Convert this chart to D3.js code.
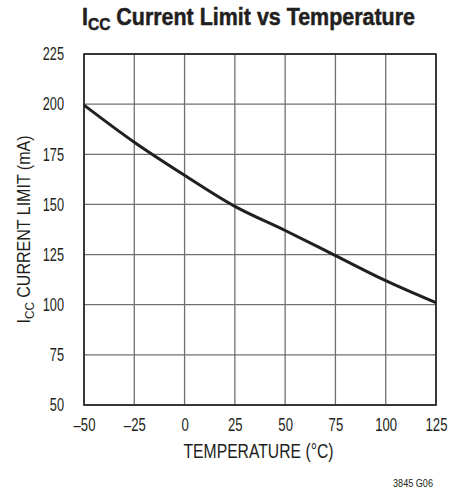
<!DOCTYPE html>
<html>
<head>
<meta charset="utf-8">
<script src="https://cdn.jsdelivr.net/npm/d3@7"></script>
<style>
  body { margin: 0; background: #fff; }
  text { font-family: "Liberation Sans", Arial, sans-serif; fill: #231f20; }
</style>
</head>
<body>
<svg id="chart"></svg>
<script>
const width = 467;
const height = 495;

// data
const temps = [-50, -25, 0, 25, 50, 75, 100, 125];
const limits = [199.5, 181, 164.5, 149, 137, 124.5, 112, 101];
const xTicks = [-50, -25, 0, 25, 50, 75, 100, 125];
const yTicks = [50, 75, 100, 125, 150, 175, 200, 225];

const margin = {top: 54, right: 31, bottom: 90, left: 84};
const w = width - margin.left - margin.right;
const h = height - margin.top - margin.bottom;
const ink = '#231f20';
const narrow = 0.71; // fake a condensed face

const svg = d3.select('#chart')
  .attr('width', width)
  .attr('height', height);

const x = d3.scaleLinear().domain([-50, 125]).range([0, w]);
const y = d3.scaleLinear().domain([50, 225]).range([h, 0]);

const g = svg.append('g')
  .attr('transform', `translate(${margin.left},${margin.top})`);

// grid
g.append('g')
  .selectAll('line')
  .data(xTicks)
  .join('line')
    .attr('x1', d => x(d)).attr('x2', d => x(d))
    .attr('y1', 0).attr('y2', h)
    .attr('stroke', '#707070')
    .attr('stroke-width', 1.3);

g.append('g')
  .selectAll('line')
  .data(yTicks)
  .join('line')
    .attr('x1', 0).attr('x2', w)
    .attr('y1', d => y(d)).attr('y2', d => y(d))
    .attr('stroke', '#707070')
    .attr('stroke-width', 1.3);

// frame
g.append('rect')
  .attr('width', w).attr('height', h)
  .attr('fill', 'none')
  .attr('stroke', ink)
  .attr('stroke-width', 1.6);

// axes labels
const xAxis = g.append('g')
  .attr('transform', `translate(0,${h})`)
  .call(d3.axisBottom(x).tickValues(xTicks).tickSize(0).tickPadding(13)
    .tickFormat(d => d < 0 ? '\u2013' + Math.abs(d) : d));
xAxis.select('.domain').remove();
xAxis.selectAll('text')
  .style('font-size', '18.5px')
  .attr('fill', ink)
  .attr('transform', `scale(${narrow},1)`);

const yAxis = g.append('g')
  .call(d3.axisLeft(y).tickValues(yTicks).tickSize(0).tickPadding(20));
yAxis.select('.domain').remove();
yAxis.selectAll('text')
  .style('font-size', '18px')
  .attr('fill', ink)
  .attr('x', -20 / narrow)
  .attr('transform', `scale(${narrow},1)`);

// curve
const line = d3.line()
  .curve(d3.curveMonotoneX)
  .x((d, i) => x(temps[i]))
  .y(d => y(d));

g.append('path')
  .datum(limits)
  .attr('d', line)
  .attr('fill', 'none')
  .attr('stroke', ink)
  .attr('stroke-width', 3)
  .attr('stroke-linejoin', 'round');

// title
const title = svg.append('text')
  .attr('x', 248.5)
  .attr('y', 25)
  .attr('text-anchor', 'middle')
  .attr('textLength', 333)
  .attr('lengthAdjust', 'spacingAndGlyphs')
  .style('font-size', '23.5px')
  .style('font-weight', 'bold')
  .style('stroke', ink)
  .style('stroke-width', 0.5);
title.append('tspan').text('I');
title.append('tspan').text('CC').style('font-size', '17px').attr('dy', 5);
title.append('tspan').text(' Current Limit vs Temperature').attr('dy', -5);

// x title
svg.append('text')
  .attr('x', 258.5)
  .attr('y', 458)
  .attr('text-anchor', 'middle')
  .attr('textLength', 150)
  .attr('lengthAdjust', 'spacingAndGlyphs')
  .style('font-size', '19.5px')
  .text('TEMPERATURE (°C)');

// y title
const yt = svg.append('text')
  .attr('transform', `translate(30,${margin.top + h / 2}) rotate(-90)`)
  .attr('text-anchor', 'middle')
  .attr('textLength', 188)
  .attr('lengthAdjust', 'spacingAndGlyphs')
  .style('font-size', '18.5px');
yt.append('tspan').text('I');
yt.append('tspan').text('CC').style('font-size', '13.5px').attr('dy', 4);
yt.append('tspan').text(' CURRENT LIMIT (mA)').attr('dy', -4);

// footnote
svg.append('text')
  .attr('x', 433)
  .attr('y', 487)
  .attr('text-anchor', 'end')
  .attr('textLength', 40)
  .attr('lengthAdjust', 'spacingAndGlyphs')
  .style('font-size', '11px')
  .text('3845 G06');
</script>
</body>
</html>
